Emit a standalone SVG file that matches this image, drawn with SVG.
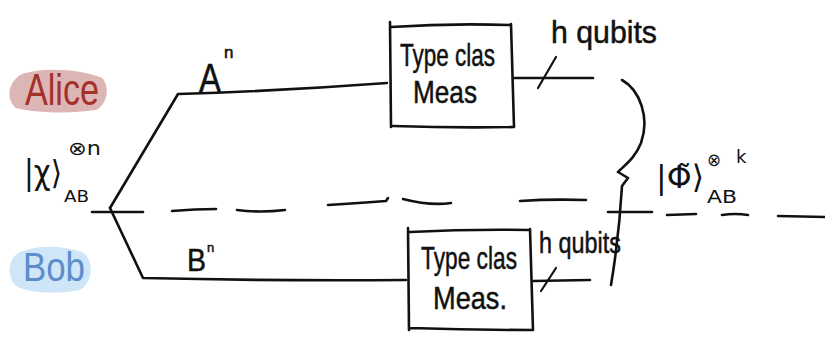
<svg xmlns="http://www.w3.org/2000/svg" width="825" height="339" viewBox="0 0 825 339">
  <defs>
    <style>
      .ink { fill: none; stroke: #111; stroke-width: 2.6; stroke-linecap: round; stroke-linejoin: round; }
      .thin { fill: none; stroke: #111; stroke-width: 2.2; stroke-linecap: round; stroke-linejoin: round; }
      .hand { font-family: "Liberation Sans", "DejaVu Sans", sans-serif; fill: #111; stroke: #111; stroke-width: 0.5; }
      .math { font-family: "DejaVu Sans", "Liberation Sans", sans-serif; fill: #111; }
    </style>
  </defs>
  <rect width="825" height="339" fill="#ffffff"/>

  <!-- party labels -->
  <g id="alice">
    <path d="M22,74 C45,66 85,70 102,78 C110,86 108,104 96,110 C70,114 35,113 16,108 C6,100 7,82 22,74 Z" fill="#dcb6b5"/>
    <text class="hand" x="25" y="105" font-size="44" textLength="74" lengthAdjust="spacingAndGlyphs" style="fill:#a4302a;stroke:none">Alice</text>
  </g>
  <g id="bob">
    <path d="M20,252 C40,244 62,246 82,252 C95,260 93,282 80,290 C60,294 30,294 16,286 C6,276 8,258 20,252 Z" fill="#cfe6f8"/>
    <text class="hand" x="23" y="281" font-size="40" textLength="62" lengthAdjust="spacingAndGlyphs" style="fill:#5b8ecb;stroke:none">Bob</text>
  </g>

  <!-- input state -->
  <g id="state-in">
    <text class="math" x="24" y="184" font-size="33" textLength="38" lengthAdjust="spacingAndGlyphs">|χ⟩</text>
    <text class="math" x="68" y="155" font-size="19" textLength="33" lengthAdjust="spacingAndGlyphs">⊗n</text>
    <text class="math" x="64" y="202" font-size="16" textLength="25" lengthAdjust="spacingAndGlyphs">AB</text>
  </g>

  <!-- wires and separator -->
  <g id="connectors">
    <path class="ink" d="M110,208 L178,94 Q280,91 387,83"/>
    <path class="ink" d="M110,208 L143,278 Q270,281 406,280"/>
    <g id="separator">
      <path class="ink" d="M92,212 L143,212"/>
      <path class="ink" d="M172,211 Q195,209 216,209"/>
      <path class="ink" d="M237,210 Q260,213 285,210"/>
      <path class="ink" d="M328,205 Q360,203 386,201 L388,198"/>
      <path class="ink" d="M403,199 Q430,206 451,203"/>
      <path class="ink" d="M520,201 Q550,199 586,200"/>
      <path class="ink" d="M608,212 L652,212"/>
      <path class="ink" d="M667,215 L696,214"/>
      <path class="ink" d="M722,215 Q735,213 748,215"/>
      <path class="ink" d="M778,216 L825,217"/>
    </g>
    <g id="out-a">
      <path class="ink" d="M513,78 L593,78"/>
      <path class="thin" d="M538,88 L556,57"/>
    </g>
    <g id="out-b">
      <path class="ink" d="M533,281 L590,280"/>
      <path class="thin" d="M541,291 L556,268"/>
    </g>
  </g>

  <!-- Alice's type-class measurement -->
  <g id="meas-a">
    <path class="ink" d="M390,22 L391,127 M391,27 Q450,23 511,25 M511,24 L514,127 M393,126 Q455,128 514,127"/>
    <text class="hand" x="400" y="66" font-size="32" textLength="95" lengthAdjust="spacingAndGlyphs">Type clas</text>
    <text class="hand" x="413" y="103" font-size="32" textLength="64" lengthAdjust="spacingAndGlyphs">Meas</text>
  </g>
  <g id="label-qa">
    <text class="hand" x="551" y="43" font-size="32" textLength="106" lengthAdjust="spacingAndGlyphs">h qubits</text>
  </g>
  <g id="label-an">
    <text class="hand" x="199" y="92" font-size="40" textLength="22" lengthAdjust="spacingAndGlyphs">A</text>
    <text class="hand" x="224" y="58" font-size="17">n</text>
  </g>

  <!-- Bob's type-class measurement -->
  <g id="meas-b">
    <path class="ink" d="M408,228 L409,330 M410,232 Q470,229 530,230 M530,229 L533,330 M410,328 Q470,330 533,330"/>
    <text class="hand" x="421" y="269" font-size="32" textLength="96" lengthAdjust="spacingAndGlyphs">Type clas</text>
    <text class="hand" x="433" y="309" font-size="32" textLength="74" lengthAdjust="spacingAndGlyphs">Meas.</text>
  </g>
  <g id="label-qb">
    <text class="hand" x="539" y="253" font-size="30" textLength="82" lengthAdjust="spacingAndGlyphs">h qubits</text>
  </g>
  <g id="label-bn">
    <text class="hand" x="187" y="271" font-size="32" textLength="19" lengthAdjust="spacingAndGlyphs">B</text>
    <text class="hand" x="207" y="252" font-size="13">n</text>
  </g>

  <!-- brace collecting both outputs -->
  <g id="brace">
    <path class="ink" d="M622,80 C640,90 650,118 641,143 C635,158 626,164 618,172 L628,178 L622,186 C620,220 616,255 611,285"/>
  </g>

  <!-- output state -->
  <g id="state-out">
    <text class="math" x="656" y="188" font-size="32" textLength="48" lengthAdjust="spacingAndGlyphs">|Φ̃⟩</text>
    <text class="math" x="707" y="166" font-size="18" textLength="14" lengthAdjust="spacingAndGlyphs">⊗</text>
    <text class="math" x="736" y="163" font-size="18">k</text>
    <text class="math" x="707" y="203" font-size="18" textLength="30" lengthAdjust="spacingAndGlyphs">AB</text>
  </g>
</svg>
